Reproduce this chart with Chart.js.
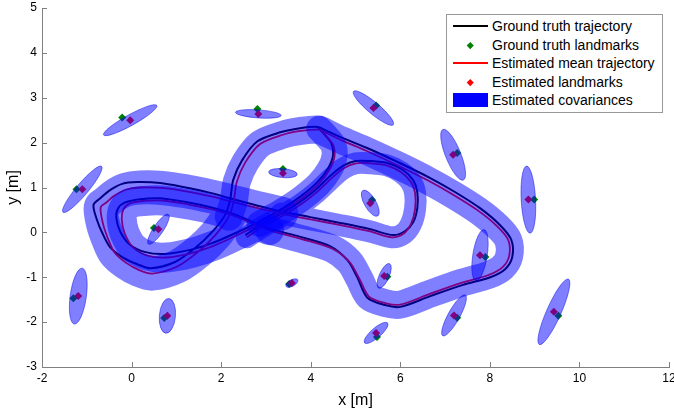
<!DOCTYPE html>
<html>
<head>
<meta charset="utf-8">
<script src="https://cdn.jsdelivr.net/npm/chart.js@4.4.1/dist/chart.umd.min.js"></script>
<style>
  body { margin: 0; background: #fff; overflow: hidden; }
  #wrap { position: relative; width: 674px; height: 414px; }
  #legend {
    position: absolute; left: 446px; top: 14px; width: 215px; height: 95px;
    border: 1px solid #999; background: #fff; padding-top: 2px; box-sizing: content-box;
    font-family: 'Liberation Sans', Arial, Helvetica, sans-serif; font-size: 14px; color: #000;
  }
  .row { position: relative; height: 18.6px; line-height: 18.6px; }
  .row span.txt { position: absolute; left: 45px; top: 0; white-space: nowrap; }
  .sw { position: absolute; }
</style>
</head>
<body>
<div id="wrap">
  <canvas id="chart" width="674" height="414"></canvas>
  <div id="legend"></div>
</div>
<script>
// ground truth trajectory
const gtX = [4.15, 4.28, 4.46, 4.50, 4.39, 4.15, 3.76, 3.32, 2.83, 2.31, 1.80, 1.31, 0.75, 0.31, -0.03, -0.25, -0.34, -0.30, -0.14, 0.19,
  0.64, 1.24, 1.76, 2.27, 3.03, 3.77, 4.44, 4.82, 5.04, 5.26, 5.66, 6.00, 6.67, 7.40, 8.01, 8.34, 8.50, 8.48, 8.23, 7.78,
  7.22, 6.67, 6.00, 5.26, 4.72, 4.32, 4.15, 3.76, 3.32, 2.81, 2.47, 2.27, 2.20, 2.09, 1.80, 1.42, 0.97, 0.42, 0.13, -0.21,
  -0.48, -0.65, -0.77, -0.85, -0.70, -0.48, -0.21, 0.13, 0.64, 1.15, 1.76, 2.20, 2.76, 3.32, 3.99, 4.66, 5.33, 5.84, 6.11, 6.29,
  6.38, 6.38, 6.29, 6.06, 5.73, 5.33, 5.00, 4.72, 4.44, 4.10, 3.76, 3.36, 2.92, 2.54];
const gtY = [2.35, 2.21, 1.99, 1.72, 1.43, 1.12, 0.79, 0.50, 0.23, -0.02, -0.24, -0.39, -0.48, -0.44, -0.28, 0.01, 0.32, 0.54, 0.67, 0.74,
  0.76, 0.67, 0.56, 0.41, 0.10, -0.10, -0.31, -0.62, -1.00, -1.45, -1.62, -1.66, -1.42, -1.17, -1.00, -0.82, -0.55, -0.17, 0.16, 0.54,
  0.90, 1.21, 1.54, 1.88, 2.10, 2.28, 2.35, 2.32, 2.23, 2.03, 1.61, 1.17, 0.72, 0.39, 0.01, -0.35, -0.66, -0.80, -0.71, -0.55,
  -0.33, -0.02, 0.27, 0.61, 0.76, 0.94, 1.08, 1.12, 1.10, 1.01, 0.88, 0.76, 0.61, 0.47, 0.34, 0.21, 0.07, -0.06, 0.03, 0.23,
  0.54, 0.90, 1.16, 1.39, 1.54, 1.59, 1.59, 1.48, 1.26, 0.94, 0.68, 0.43, 0.19, -0.06];

// estimated mean trajectory
const estX = [4.19, 4.32, 4.50, 4.53, 4.42, 4.18, 3.79, 3.35, 2.86, 2.34, 1.83, 1.34, 0.78, 0.36, 0.04, -0.15, -0.22, -0.18, -0.03, 0.27,
  0.69, 1.28, 1.80, 2.31, 3.07, 3.80, 4.47, 4.86, 5.08, 5.30, 5.68, 6.00, 6.66, 7.38, 7.97, 8.28, 8.43, 8.41, 8.17, 7.73,
  7.18, 6.63, 5.97, 5.24, 4.72, 4.34, 4.19, 3.78, 3.36, 2.87, 2.54, 2.35, 2.28, 2.17, 1.88, 1.49, 1.02, 0.46, 0.17, -0.12,
  -0.38, -0.53, -0.64, -0.69, -0.57, -0.38, -0.13, 0.19, 0.68, 1.18, 1.78, 2.22, 2.78, 3.34, 4.00, 4.67, 5.33, 5.81, 6.07, 6.24,
  6.33, 6.33, 6.24, 6.02, 5.71, 5.33, 5.01, 4.74, 4.47, 4.13, 3.79, 3.39, 2.95, 2.57];
const estY = [2.31, 2.17, 1.95, 1.69, 1.40, 1.08, 0.75, 0.46, 0.19, -0.07, -0.30, -0.46, -0.56, -0.52, -0.34, -0.03, 0.29, 0.52, 0.65, 0.70,
  0.71, 0.62, 0.51, 0.36, 0.05, -0.15, -0.36, -0.65, -1.02, -1.43, -1.58, -1.61, -1.37, -1.12, -0.95, -0.78, -0.53, -0.17, 0.13, 0.49,
  0.84, 1.15, 1.48, 1.82, 2.04, 2.22, 2.29, 2.26, 2.17, 1.97, 1.56, 1.13, 0.69, 0.35, -0.05, -0.43, -0.76, -0.92, -0.84, -0.68,
  -0.45, -0.13, 0.20, 0.56, 0.66, 0.82, 0.95, 1.00, 0.99, 0.92, 0.80, 0.69, 0.55, 0.42, 0.29, 0.16, 0.02, -0.11, -0.03, 0.19,
  0.52, 0.88, 1.12, 1.34, 1.49, 1.54, 1.54, 1.43, 1.21, 0.89, 0.63, 0.38, 0.14, -0.11];

// landmarks
const gtLmX = [-1.23, -0.21, 2.81, 3.38, 5.46, 7.27, 8.99, 7.90, 5.71, 7.27, 9.53, 5.48, 3.52, 0.73, -1.30, 0.50, 5.37];
const gtLmY = [0.96, 2.56, 2.75, 1.41, 2.83, 1.77, 0.73, -0.55, -0.99, -1.90, -1.86, -2.33, -1.15, -1.91, -1.47, 0.10, 0.72];
const estLmX = [-1.10, -0.03, 2.83, 3.38, 5.40, 7.18, 8.86, 7.78, 5.64, 7.20, 9.43, 5.46, 3.58, 0.80, -1.19, 0.60, 5.33];
const estLmY = [0.96, 2.50, 2.64, 1.32, 2.77, 1.73, 0.73, -0.51, -0.97, -1.85, -1.77, -2.24, -1.13, -1.86, -1.42, 0.07, 0.65];

// landmark covariance ellipses: semi axes [m], orientation [deg]
const ellA = [0.67, 0.68, 0.51, 0.32, 0.58, 0.61, 0.75, 0.58, 0.30, 0.52, 0.80, 0.34, 0.15, 0.39, 0.63, 0.40, 0.33];
const ellB = [0.13, 0.12, 0.09, 0.10, 0.13, 0.17, 0.16, 0.16, 0.11, 0.13, 0.16, 0.11, 0.07, 0.18, 0.18, 0.11, 0.13];
const ellAngle = [50, 29, -4, -5, -40, -68, -87, 81, 66, 61, 66, 41, 29, 85, 82, 56, -60];

// pose covariance band along the estimated path, pieces joined in the middle crossing
const bandBreaks = [0, 8, 24, 53, 73, 93];
const bandWidths = [26, 30, 28, 34, 22];

const legendLabels = ['Ground truth trajectory', 'Ground truth landmarks', 'Estimated mean trajectory', 'Estimated landmarks', 'Estimated covariances'];

const axisGrey = '#808080';
const fontFamily = "'Liberation Sans', Arial, Helvetica, sans-serif";

const pts = (xs, ys) => xs.map((x, i) => ({ x: x, y: ys[i] }));

const bandSets = bandWidths.map((w, k) => ({
  label: 'band',
  data: pts(estX, estY).slice(bandBreaks[k], bandBreaks[k + 1] + 1),
  showLine: true,
  pointRadius: 0,
  borderColor: 'rgba(0, 0, 255, 0.5)',
  borderWidth: w,
  borderCapStyle: 'round',
  borderJoinStyle: 'round',
  tension: 0.3,
  order: 1
}));

// ellipses around estimated landmarks, drawn on top of everything
const ellipsePlugin = {
  id: 'ellipses',
  afterDatasetsDraw(chart) {
    const ctx = chart.ctx;
    const xs = chart.scales.x, ys = chart.scales.y;
    const kx = xs.getPixelForValue(1) - xs.getPixelForValue(0);
    const ky = ys.getPixelForValue(0) - ys.getPixelForValue(1);
    ctx.save();
    estLmX.forEach((x, i) => {
      ctx.beginPath();
      ctx.ellipse(xs.getPixelForValue(x), ys.getPixelForValue(estLmY[i]), ellA[i] * kx, ellB[i] * ky, -ellAngle[i] * Math.PI / 180, 0, 2 * Math.PI);
      ctx.fillStyle = 'rgba(0, 0, 255, 0.5)';
      ctx.fill();
      ctx.lineWidth = 0.8;
      ctx.strokeStyle = 'rgba(0, 0, 230, 0.6)';
      ctx.stroke();
    });
    ctx.restore();
  }
};

// inward tick marks, matlab style
const tickPlugin = {
  id: 'inTicks',
  afterDraw(chart) {
    const ctx = chart.ctx;
    const xs = chart.scales.x, ys = chart.scales.y;
    const a = chart.chartArea;
    ctx.save();
    ctx.strokeStyle = axisGrey;
    ctx.lineWidth = 1;
    ctx.beginPath();
    xs.ticks.forEach(t => {
      const p = Math.round(xs.getPixelForValue(t.value)) + 0.5;
      ctx.moveTo(p, a.bottom);
      ctx.lineTo(p, a.bottom - 5);
    });
    ys.ticks.forEach(t => {
      const p = Math.round(ys.getPixelForValue(t.value)) + 0.5;
      ctx.moveTo(a.left, p);
      ctx.lineTo(a.left + 5, p);
    });
    ctx.stroke();
    ctx.restore();
  }
};

const ctx = document.getElementById('chart').getContext('2d');
new Chart(ctx, {
  type: 'scatter',
  data: {
    datasets: [
      ...bandSets,
      {
        label: legendLabels[3],
        data: pts(estLmX, estLmY),
        pointStyle: 'rectRot',
        pointRadius: 4,
        backgroundColor: '#ff0000',
        borderWidth: 0,
        order: 7
      },
      {
        label: legendLabels[1],
        data: pts(gtLmX, gtLmY),
        pointStyle: 'rectRot',
        pointRadius: 4,
        backgroundColor: '#008000',
        borderWidth: 0,
        order: 8
      },
      {
        label: legendLabels[2],
        data: pts(estX, estY),
        showLine: true,
        pointRadius: 0,
        borderColor: '#ff0000',
        borderWidth: 1.8,
        tension: 0.3,
        order: 9
      },
      {
        label: legendLabels[0],
        data: pts(gtX, gtY),
        showLine: true,
        pointRadius: 0,
        borderColor: '#000000',
        borderWidth: 2,
        tension: 0.3,
        order: 10
      }
    ]
  },
  options: {
    responsive: false,
    animation: false,
    events: [],
    devicePixelRatio: 1,
    layout: { padding: { left: 0, top: 8, right: 5, bottom: 0 } },
    plugins: { legend: { display: false }, tooltip: { enabled: false } },
    scales: {
      x: {
        type: 'linear',
        min: -2,
        max: 12,
        ticks: { stepSize: 2, padding: 4, color: '#000', font: { family: fontFamily, size: 12 } },
        grid: { drawOnChartArea: false, drawTicks: false },
        border: { display: true, color: axisGrey, width: 1 },
        title: { display: true, text: 'x [m]', color: '#000', font: { family: fontFamily, size: 16 } },
        afterFit(scale) {
          scale.height = 47;
          scale.paddingLeft = 0;
          scale.paddingRight = 0;
        }
      },
      y: {
        type: 'linear',
        min: -3,
        max: 5,
        ticks: { stepSize: 1, padding: 5, color: '#000', font: { family: fontFamily, size: 12 } },
        grid: { drawOnChartArea: false, drawTicks: false },
        border: { display: true, color: axisGrey, width: 1 },
        title: { display: true, text: 'y [m]', color: '#000', font: { family: fontFamily, size: 16 } },
        afterFit(scale) {
          scale.width = 42;
          scale.paddingTop = 0;
          scale.paddingBottom = 0;
        }
      }
    }
  },
  plugins: [ellipsePlugin, tickPlugin]
});

// legend box
const swatches = [
  '<div class="sw" style="left:6px;top:8.3px;width:35px;height:2px;background:#000"></div>',
  '<div class="sw" style="left:21px;top:7px;width:4.5px;height:4.5px;background:#008000;transform:rotate(45deg)"></div>',
  '<div class="sw" style="left:6px;top:8.3px;width:35px;height:2px;background:#ff0000"></div>',
  '<div class="sw" style="left:21px;top:7px;width:4.5px;height:4.5px;background:#ff0000;transform:rotate(45deg)"></div>',
  '<div class="sw" style="left:6px;top:2px;width:35px;height:14px;background:#0000ff"></div>'
];
const legendBox = document.getElementById('legend');
legendBox.innerHTML = legendLabels.map((t, i) =>
  '<div class="row">' + swatches[i] + '<span class="txt">' + t + '</span></div>').join('');
</script>
</body>
</html>
